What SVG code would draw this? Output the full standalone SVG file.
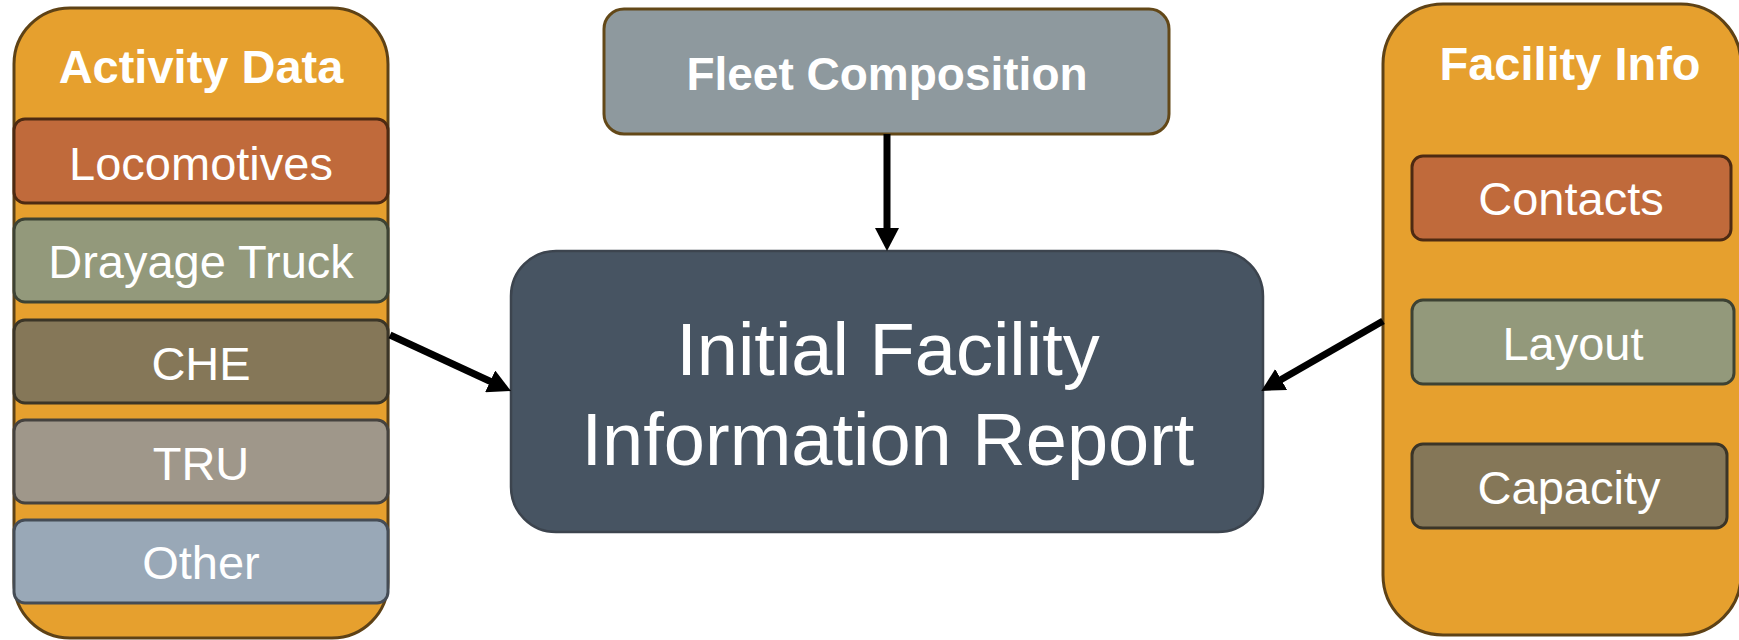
<svg xmlns="http://www.w3.org/2000/svg" width="1739" height="640" viewBox="0 0 1739 640">
  <style>
    .container { fill: #E6A02E; stroke: #5E4216; stroke-width: 3; }
    .item { stroke-width: 3; }
    .loco { fill: #C06A3B; stroke: #4D2A12; }
    .dray { fill: #93997B; stroke: #3D4233; }
    .che { fill: #857758; stroke: #3B3527; }
    .tru { fill: #9F978A; stroke: #45423E; }
    .other { fill: #99A8B7; stroke: #454C55; }
    .label { font-family: "Liberation Sans", Arial, sans-serif; font-size: 47px; fill: #FFFFFF; text-anchor: middle; }
    .title { font-family: "Liberation Sans", Arial, sans-serif; font-size: 47px; font-weight: bold; fill: #FFFFFF; text-anchor: middle; }
    .big { font-family: "Liberation Sans", Arial, sans-serif; font-size: 74px; fill: #FFFFFF; text-anchor: middle; }
    .conn { stroke: #000000; stroke-width: 7; fill: none; marker-end: url(#arrow); }
  </style>
  <defs>
    <marker id="arrow" markerUnits="userSpaceOnUse" viewBox="0 0 23 24" refX="7" refY="12" markerWidth="23" markerHeight="24" orient="auto">
      <path d="M0,0 L23,12 L0,24 z" fill="#000000"/>
    </marker>
  </defs>
  <rect width="1739" height="640" fill="#FFFFFF"/>

  <g id="activity-data">
    <rect class="container" x="14" y="8" width="374" height="630" rx="56" ry="56"/>
    <text class="title" x="201" y="83">Activity Data</text>
  </g>
  <g id="locomotives">
    <rect class="item loco" x="14" y="119" width="374" height="84" rx="11" ry="11"/>
    <text class="label" x="201" y="180">Locomotives</text>
  </g>
  <g id="drayage-truck">
    <rect class="item dray" x="14" y="219" width="374" height="83" rx="11" ry="11"/>
    <text class="label" x="201" y="278">Drayage Truck</text>
  </g>
  <g id="che">
    <rect class="item che" x="14" y="320" width="374" height="83" rx="11" ry="11"/>
    <text class="label" x="201" y="380">CHE</text>
  </g>
  <g id="tru">
    <rect class="item tru" x="14" y="420" width="374" height="83" rx="11" ry="11"/>
    <text class="label" x="201" y="480">TRU</text>
  </g>
  <g id="other">
    <rect class="item other" x="14" y="520" width="374" height="83" rx="11" ry="11"/>
    <text class="label" x="201" y="579">Other</text>
  </g>

  <g id="fleet-composition">
    <rect x="604" y="9" width="565" height="125" rx="20" ry="20" fill="#8E999E" stroke="#634818" stroke-width="3"/>
    <text class="title" x="887" y="90" style="font-size:46px">Fleet Composition</text>
  </g>

  <g id="initial-report">
    <rect x="511" y="251" width="752" height="281" rx="45" ry="45" fill="#475462" stroke="#3C444E" stroke-width="2.5"/>
    <text class="big" x="888" y="375">Initial Facility</text>
    <text class="big" x="888" y="465">Information Report</text>
  </g>

  <g id="facility-info">
    <rect class="container" x="1383" y="4" width="358" height="631" rx="60" ry="60"/>
    <text class="title" x="1570" y="80">Facility Info</text>
  </g>
  <g id="contacts">
    <rect class="item loco" x="1412" y="156" width="319" height="84" rx="11" ry="11"/>
    <text class="label" x="1571" y="215">Contacts</text>
  </g>
  <g id="layout">
    <rect class="item dray" x="1412" y="300" width="322" height="84" rx="11" ry="11"/>
    <text class="label" x="1573" y="360">Layout</text>
  </g>
  <g id="capacity">
    <rect class="item che" x="1412" y="444" width="315" height="84" rx="11" ry="11"/>
    <text class="label" x="1569" y="504">Capacity</text>
  </g>

  <g id="connectors">
    <line class="conn" x1="887" y1="134" x2="887" y2="235"/>
    <line class="conn" x1="390" y1="335" x2="496.5" y2="384.3"/>
    <line class="conn" x1="1383" y1="321" x2="1275.1" y2="383"/>
  </g>
</svg>
